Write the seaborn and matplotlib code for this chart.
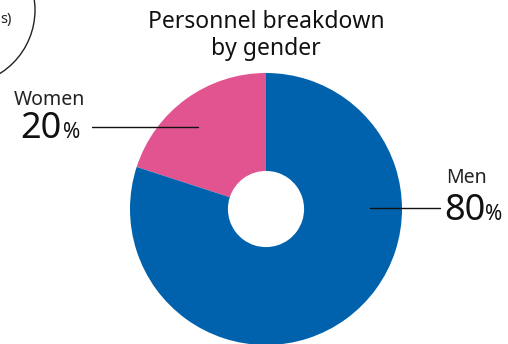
import matplotlib
matplotlib.use("Agg")
import matplotlib.pyplot as plt
from matplotlib.patches import Circle
import seaborn as sns

# Data
groups = ["Women", "Men"]
shares = [20, 80]
colors = ["#E1548F", "#0062AD"]
title_lines = ["Personnel breakdown", "by gender"]

sns.set_theme(style="white")
plt.rcParams["font.family"] = ["Noto Sans", "DejaVu Sans"]

W, H = 508, 344
fig = plt.figure(figsize=(W / 100, H / 100), dpi=100)
ax = fig.add_axes([0, 0, 1, 1])

cx, cy, r = 266, H - 209, 136
ax.pie(shares, colors=colors, startangle=90, counterclock=True,
       center=(cx, cy), radius=r, frame=True,
       wedgeprops=dict(width=r * 0.72, linewidth=0))
ax.set_xlim(0, W)
ax.set_ylim(0, H)
ax.set_aspect("equal")
ax.axis("off")

# Partial circle in the top-left corner
ax.add_patch(Circle((-40, H - 10), 75, fill=False, edgecolor="#222222", lw=1, clip_on=True))
ax.text(0, H - 23, "s)", fontsize=10.5, ha="left", va="baseline", color="#222222")

# Two-line title
ax.text(266, H - 28, title_lines[0], fontsize=16.5, ha="center", va="baseline", color="#111111")
ax.text(266, H - 55, title_lines[1], fontsize=16.5, ha="center", va="baseline", color="#111111")

# Women label
ax.text(14, H - 100, groups[0], fontsize=14, ha="left", va="center", color="#222222")
ax.text(20, H - 138, f"{shares[0]}", fontsize=26, ha="left", va="baseline", color="#111111")
ax.text(63, H - 138, "%", fontsize=15, ha="left", va="baseline", color="#111111")
ax.plot([92, 198], [H - 127, H - 127], color="#111111", lw=1)

# Men label
ax.text(446, H - 178, groups[1], fontsize=14, ha="left", va="center", color="#222222")
ax.text(444, H - 220, f"{shares[1]}", fontsize=26, ha="left", va="baseline", color="#111111")
ax.text(485, H - 220, "%", fontsize=15, ha="left", va="baseline", color="#111111")
ax.plot([370, 440], [H - 208, H - 208], color="#111111", lw=1)

fig.savefig("out.png", dpi=100)
